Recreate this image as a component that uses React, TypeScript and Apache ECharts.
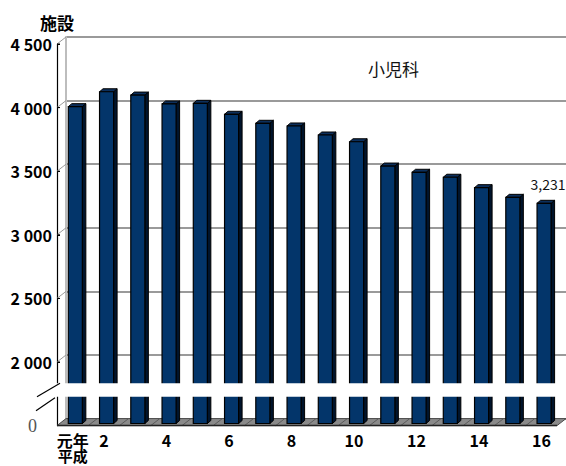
import React, { useEffect, useRef } from "react";
import * as echarts from "echarts";

const CATEGORIES = ["元年", "2", "3", "4", "5", "6", "7", "8", "9", "10", "11", "12", "13", "14", "15", "16"];
const FACILITIES = [3991, 4108, 4082, 4012, 4017, 3931, 3860, 3839, 3768, 3715, 3524, 3475, 3436, 3354, 3278, 3231];
const Y_TICKS = [2000, 2500, 3000, 3500, 4000, 4500];
const Y_MIN = 1500;
const Y_MAX = 4500;
const Y_STEP = 500;
const BREAK_RANGE = [1727, 1833];
const TITLE = "小児科";
const UNIT = "施設";
const ERA = "平成";

const FONT = "'Noto Sans CJK JP', 'Noto Sans', sans-serif";
const DX = 9;
const DY = -7;

export default function App() {
  const ref = useRef<HTMLDivElement>(null);
  useEffect(() => {
    document.body.style.margin = "0";
    const chart = echarts.init(ref.current!, null, { renderer: "svg" });
    const fmt = (v: number) => {
      if (v === Y_MIN) return "{z|0}";
      const s = String(v);
      return s.slice(0, s.length - 3) + " " + s.slice(-3);
    };
    const option: any = {
      animation: false,
      backgroundColor: "#fff",
      title: {
        text: TITLE,
        left: 368,
        top: 60,
        padding: 0,
        textStyle: { fontFamily: FONT, fontSize: 17, fontWeight: "normal", color: "#111" },
      },
      grid: [
        { left: 57, top: 44, width: 500, height: 381.6 },
        { left: 57 + DX, top: 44 + DY, width: 500, height: 381.6 },
      ],
      xAxis: [
        {
          type: "category",
          gridIndex: 0,
          data: CATEGORIES,
          axisLine: { show: false },
          axisTick: { show: false },
          axisLabel: {
            interval: (i: number) => i === 0 || i % 2 === 1,
            fontFamily: FONT,
            fontWeight: "bold",
            fontSize: 16,
            color: "#000",
            margin: 6,
          },
        },
        { type: "category", gridIndex: 1, data: CATEGORIES, show: false },
      ],
      yAxis: [
        {
          type: "value",
          gridIndex: 0,
          min: Y_MIN,
          max: Y_MAX,
          interval: Y_STEP,
          name: UNIT,
          nameLocation: "end",
          nameGap: 13,
          nameTextStyle: { fontFamily: FONT, fontSize: 17, fontWeight: "bold", color: "#000" },
          axisLine: { show: true, lineStyle: { color: "#000", width: 1.2 } },
          axisTick: { show: true, inside: true, length: 3, customValues: Y_TICKS, lineStyle: { color: "#000" } },
          splitLine: { show: false },
          axisLabel: {
            customValues: [Y_MIN, ...Y_TICKS],
            formatter: fmt,
            fontFamily: FONT,
            fontWeight: "bold",
            fontSize: 16,
            color: "#000",
            margin: 5,
            rich: {
              z: {
                fontFamily: "'Liberation Serif', 'DejaVu Serif', serif",
                fontWeight: "normal",
                fontSize: 18,
                color: "#555",
                padding: [0, 15, 0, 0],
              },
            },
          },
        },
        {
          type: "value",
          gridIndex: 1,
          min: Y_MIN,
          max: Y_MAX,
          interval: Y_STEP,
          axisLabel: { show: false },
          axisTick: { show: false },
          axisLine: { show: true, lineStyle: { color: "#bdbdbd", width: 2 } },
          splitLine: { show: true, lineStyle: { color: "#9a9a9a", width: 2 } },
        },
      ],
      series: [
        {
          type: "custom",
          name: "connectors",
          xAxisIndex: 0,
          yAxisIndex: 0,
          z: 1,
          silent: true,
          data: Y_TICKS.map((v) => [0, v]),
          renderItem: (params: any, api: any) => {
            const cs = params.coordSys;
            const p = api.coord([0, api.value(1)]);
            return {
              type: "group",
              children: [
                {
                  type: "line",
                  shape: { x1: cs.x, y1: p[1], x2: cs.x + DX, y2: p[1] + DY },
                  style: { stroke: "#9a9a9a", lineWidth: 1 },
                },
                {
                  type: "line",
                  shape: { x1: cs.x, y1: p[1], x2: cs.x + 3, y2: p[1] },
                  style: { stroke: "#000", lineWidth: 1 },
                },
              ],
            };
          },
        },
        {
          type: "custom",
          name: "floor",
          xAxisIndex: 0,
          yAxisIndex: 0,
          z: 2,
          silent: true,
          data: [[0, Y_MIN]],
          renderItem: (params: any, api: any) => {
            const cs = params.coordSys;
            const yb = cs.y + cs.height;
            const band = cs.width / CATEGORIES.length;
            const children: any[] = [
              {
                type: "polygon",
                shape: {
                  points: [
                    [cs.x, yb],
                    [cs.x + cs.width, yb],
                    [cs.x + cs.width + DX, yb + DY],
                    [cs.x + DX, yb + DY],
                  ],
                },
                style: { fill: "#8a8a8a", stroke: "#4a4a4a", lineWidth: 1 },
              },
            ];
            for (let k = 1; k < CATEGORIES.length; k++) {
              const x = cs.x + k * band;
              children.push({
                type: "line",
                shape: { x1: x, y1: yb, x2: x + DX, y2: yb + DY },
                style: { stroke: "#5a5a5a", lineWidth: 1 },
              });
            }
            children.push({
              type: "line",
              shape: { x1: cs.x, y1: yb, x2: cs.x + cs.width, y2: yb },
              style: { stroke: "#222", lineWidth: 1.5 },
            });
            return { type: "group", children };
          },
        },
        {
          type: "custom",
          name: TITLE,
          xAxisIndex: 0,
          yAxisIndex: 0,
          z: 3,
          data: FACILITIES.map((v, i) => [i, v]),
          renderItem: (params: any, api: any) => {
            const i = api.value(0);
            const v = api.value(1);
            const top = api.coord([i, v]);
            const base = api.coord([i, Y_MIN]);
            const band = api.size([1, 0])[0];
            const w = band * 0.45;
            const cx = top[0] + 2.7;
            const x0 = cx - w / 2;
            const x1 = cx + w / 2;
            const yt = top[1] - 2.1;
            const yb = base[1] - 2.1;
            const ox = 3.5;
            const oy = -3;
            const children: any[] = [
              {
                type: "polygon",
                shape: { points: [[x1, yt], [x1 + ox, yt + oy], [x1 + ox, yb + oy], [x1, yb]] },
                style: { fill: "#00142c", stroke: "#000", lineWidth: 1 },
              },
              {
                type: "polygon",
                shape: { points: [[x0, yt], [x0 + ox, yt + oy], [x1 + ox, yt + oy], [x1, yt]] },
                style: { fill: "#0c2f5c", stroke: "#000", lineWidth: 1 },
              },
              {
                type: "rect",
                shape: { x: x0, y: yt, width: w, height: yb - yt },
                style: { fill: "#03356a", stroke: "#000", lineWidth: 1.2 },
              },
            ];
            if (params.dataIndex === FACILITIES.length - 1) {
              children.push({
                type: "text",
                style: {
                  text: v.toLocaleString("en-US"),
                  x: cx + 4,
                  y: yt - 12,
                  align: "center",
                  verticalAlign: "bottom",
                  fontFamily: FONT,
                  fontSize: 14,
                  fill: "#111",
                },
              });
            }
            return { type: "group", children };
          },
        },
        {
          type: "custom",
          name: "break",
          xAxisIndex: 0,
          yAxisIndex: 0,
          z: 10,
          silent: true,
          data: [[0, BREAK_RANGE[0]]],
          renderItem: (params: any, api: any) => {
            const cs = params.coordSys;
            const yLow = api.coord([0, BREAK_RANGE[0]])[1];
            const yHigh = api.coord([0, BREAK_RANGE[1]])[1];
            return {
              type: "group",
              children: [
                {
                  type: "rect",
                  shape: { x: cs.x - 3, y: yHigh, width: cs.width + DX + 20, height: yLow - yHigh },
                  style: { fill: "#fff" },
                },
                {
                  type: "line",
                  shape: { x1: cs.x - 20, y1: yLow, x2: cs.x + 3, y2: yHigh },
                  style: { stroke: "#000", lineWidth: 1.2 },
                },
                {
                  type: "line",
                  shape: { x1: cs.x - 21, y1: yLow + 14, x2: cs.x - 2, y2: yLow + 1 },
                  style: { stroke: "#000", lineWidth: 1.2 },
                },
              ],
            };
          },
        },
      ],
    };
    chart.setOption(option);
    const firstX = chart.convertToPixel({ xAxisIndex: 0 }, CATEGORIES[0]) as number;
    const floorY = chart.convertToPixel({ yAxisIndex: 0 }, Y_MIN) as number;
    chart.setOption({
      graphic: [
        {
          type: "text",
          x: firstX,
          y: floorY + 29.4,
          style: {
            text: ERA,
            align: "center",
            verticalAlign: "middle",
            fontFamily: FONT,
            fontWeight: "bold",
            fontSize: 15,
            fill: "#000",
          },
        },
      ],
    });
    return () => chart.dispose();
  }, []);
  return <div ref={ref} style={{ width: 566, height: 466 }} />;
}
